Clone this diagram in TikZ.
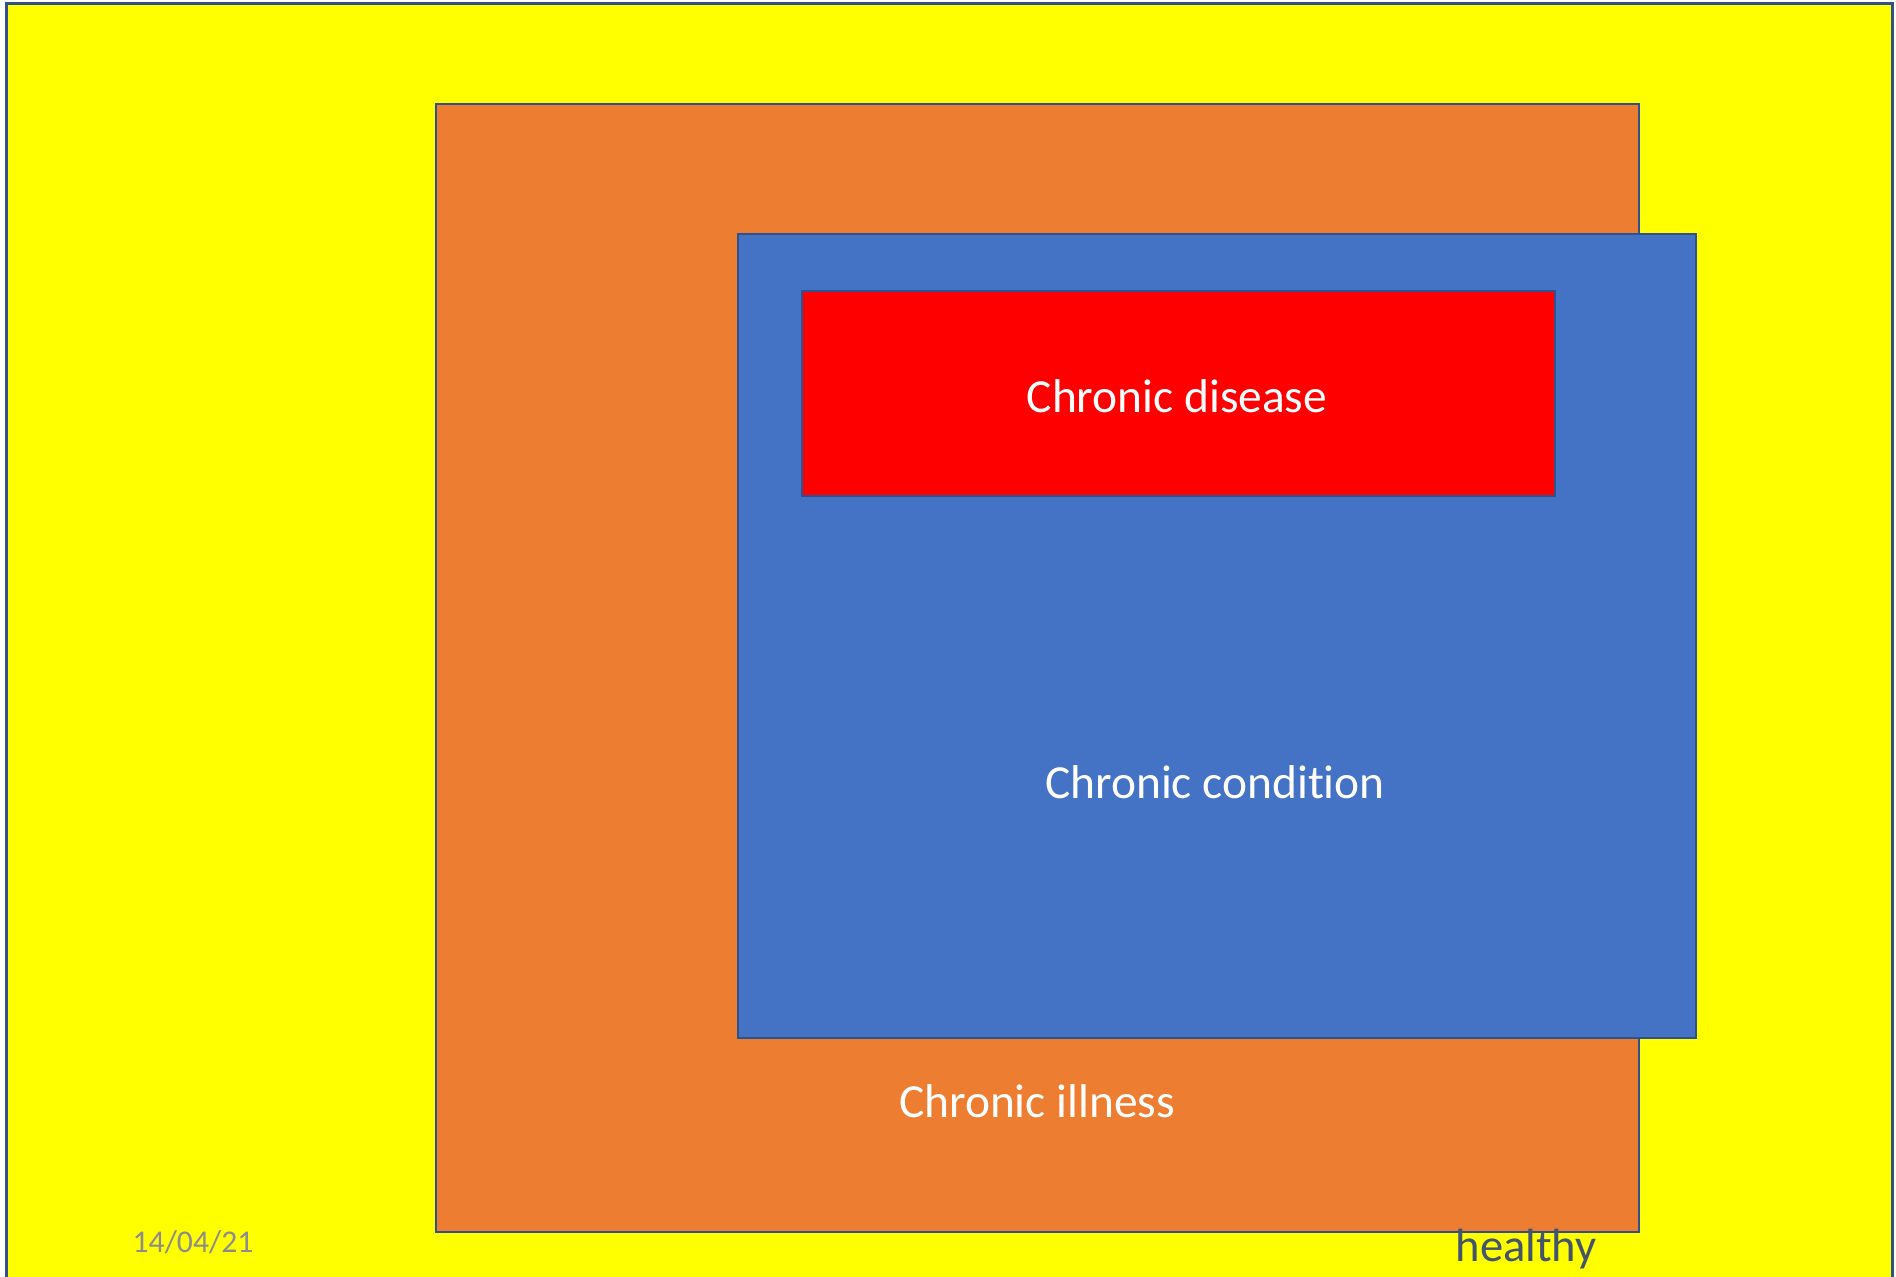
\documentclass[tikz,border=0pt]{standalone}
\usepackage{fontspec}
\setmainfont{Carlito}[Ligatures=NoCommon]
\usetikzlibrary{positioning}

\definecolor{healthyfill}{HTML}{FFFF00}
\definecolor{illnessfill}{HTML}{ED7D31}
\definecolor{conditionfill}{HTML}{4472C4}
\definecolor{diseasefill}{HTML}{FF0000}
\definecolor{boxline}{HTML}{2F528F}
\definecolor{healthytext}{HTML}{44546A}
\definecolor{datetext}{HTML}{8C8C8C}

\tikzset{
  area/.style   = {draw=boxline, line width=1.2pt},
  label/.style  = {font=\fontsize{27}{32}\selectfont, anchor=base, inner sep=0pt, text=white},
  corner/.style = {font=\fontsize{18}{22}\selectfont, anchor=base, inner sep=0pt}
}

\begin{document}
\begin{tikzpicture}[x=0.2mm, y=-0.2mm]

% page frame, pixel units of the slide
\clip (0,0) rectangle (1896,1276);
\fill[white] (0,0) rectangle (1896,1276);

% nested areas, outermost first
\draw[area, fill=healthyfill]   (6.5,3.5) rectangle (1892.5,1290);
\draw[area, fill=illnessfill]   (436,104) rectangle (1639,1232);
\draw[area, fill=conditionfill] (738,234) rectangle (1696,1038);
\draw[area, fill=diseasefill]   (802,291) rectangle (1555,496);

% labels of the areas
\node[label] (disease)   at (1177,412)  {Chronic disease};
\node[label] (condition) at (1215,798)  {Chronic condition};
\node[label] (illness)   at (1037,1117) {Chronic illness};
\node[label, text=healthytext, font=\fontsize{26.5}{32}\selectfont] (healthy) at (1526,1261) {healthy};

% date in the corner
\node[corner, text=datetext] (date) at (193,1252) {14/04/21};

\end{tikzpicture}
\end{document}
